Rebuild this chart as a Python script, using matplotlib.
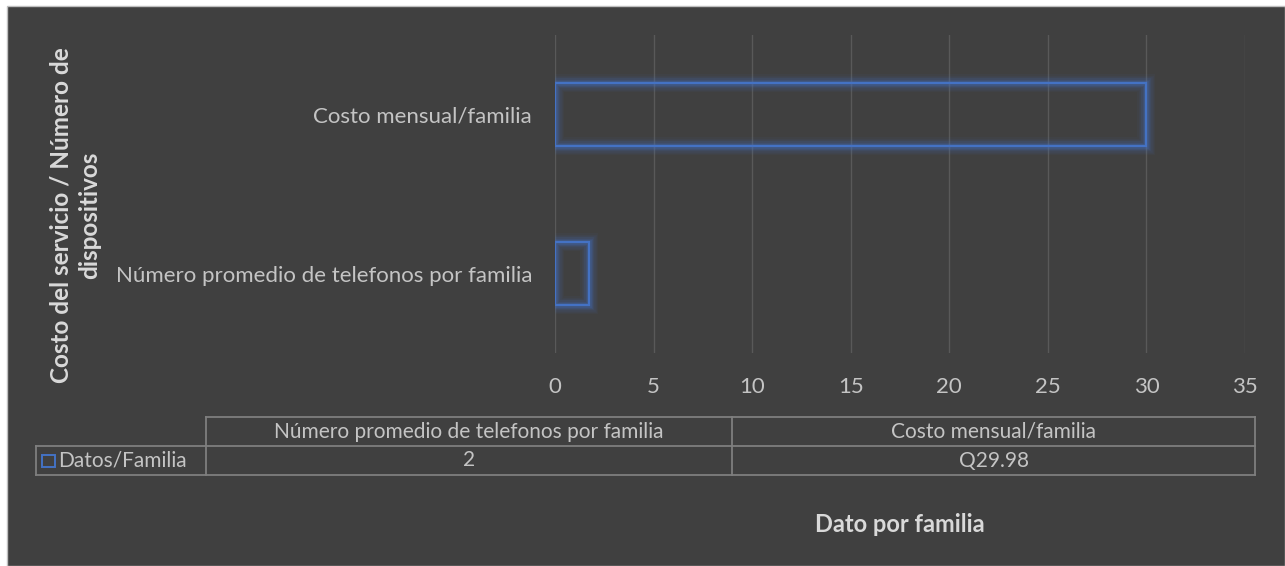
import matplotlib.pyplot as plt
from matplotlib.lines import Line2D
from matplotlib.patches import Rectangle

# data
categories = ["Número promedio de telefonos por familia", "Costo mensual/familia"]
values = [1.7, 29.98]
table_labels = ["2", "Q29.98"]
series_name = "Datos/Familia"
x_ticks = [0, 5, 10, 15, 20, 25, 30, 35]

bg = "#404040"
txt = "#c4c4c4"
title_c = "#d9d9d9"
blue = "#4472c4"
grid_c = "#595959"
W, H = 1285, 566

plt.rcParams['font.family'] = ['Lato', 'DejaVu Sans']

fig = plt.figure(figsize=(W / 100, H / 100), dpi=100)
fig.patch.set_facecolor("white")

def fx(px):
    return px / W

def fy(py):
    return 1 - py / H

# dark chart background with a thin border
fig.patches.append(Rectangle((fx(7), 0), 1 - fx(7), fy(6), transform=fig.transFigure,
                             facecolor=bg, edgecolor="#bfbfbf", linewidth=1, zorder=-5))

ax = fig.add_axes([fx(555), fy(353), fx(1245) - fx(555), fy(35) - fy(353)])
ax.set_zorder(2)
ax.patch.set_alpha(0)
y = range(len(categories))

# glow behind the bar outlines
for lw, a in [(13, 0.05), (11, 0.06), (9, 0.08), (7, 0.11), (5, 0.15), (3.5, 0.2)]:
    ax.barh(y, values, height=0.4, facecolor="none", edgecolor=blue, linewidth=lw, alpha=a)
ax.barh(y, values, height=0.4, facecolor="none", edgecolor=blue, linewidth=1.6)

ax.set_xlim(0, 35)
ax.set_ylim(-0.5, 1.5)
ax.set_xticks(x_ticks)
ax.set_yticks(list(y))
ax.set_yticklabels(categories)
ax.tick_params(colors=txt, labelsize=16, length=0)
ax.tick_params(axis="x", pad=17)
ax.tick_params(axis="y", pad=16.5)
ax.xaxis.grid(True, color=grid_c, linewidth=1)
ax.set_axisbelow(True)
for s in ax.spines.values():
    s.set_visible(False)

# data table below the plot
line_c = "#7f7f7f"
xs = [206, 732, 1255]
rows = [417, 446, 475]

def hline(x0, x1, yy):
    fig.add_artist(Line2D([fx(x0), fx(x1)], [fy(yy), fy(yy)], color=line_c, linewidth=1.3))

def vline(xx, y0, y1):
    fig.add_artist(Line2D([fx(xx), fx(xx)], [fy(y0), fy(y1)], color=line_c, linewidth=1.3))

hline(xs[0], xs[2], rows[0])
hline(36, xs[2], rows[1])
hline(36, xs[2], rows[2])
for xx in xs:
    vline(xx, rows[0], rows[2])
vline(36, rows[1], rows[2])

for i, c in enumerate(categories):
    fig.text(fx((xs[i] + xs[i + 1]) / 2), fy((rows[0] + rows[1]) / 2), c,
             ha="center", va="center", color=txt, fontsize=15)
    fig.text(fx((xs[i] + xs[i + 1]) / 2), fy((rows[1] + rows[2]) / 2), table_labels[i],
             ha="center", va="center", color=txt, fontsize=15)

fig.patches.append(Rectangle((fx(42), fy(467)), fx(13), fy(455) - fy(467), transform=fig.transFigure,
                             facecolor="none", edgecolor=blue, linewidth=1.4))
fig.text(fx(58), fy((rows[1] + rows[2]) / 2), series_name, ha="left", va="center",
         color=txt, fontsize=15)

# axis titles
fig.text(fx(900), fy(524), "Dato por familia", ha="center", va="center",
         color=title_c, fontsize=17, fontweight="bold")
fig.text(fx(75), fy(215), "Costo del servicio / Número de\ndispositivos", ha="center",
         va="center", rotation=90, color=title_c, fontsize=17.5, fontweight="bold",
         multialignment="center", linespacing=1.3)

fig.savefig("out.png", dpi=100, facecolor=fig.get_facecolor())
